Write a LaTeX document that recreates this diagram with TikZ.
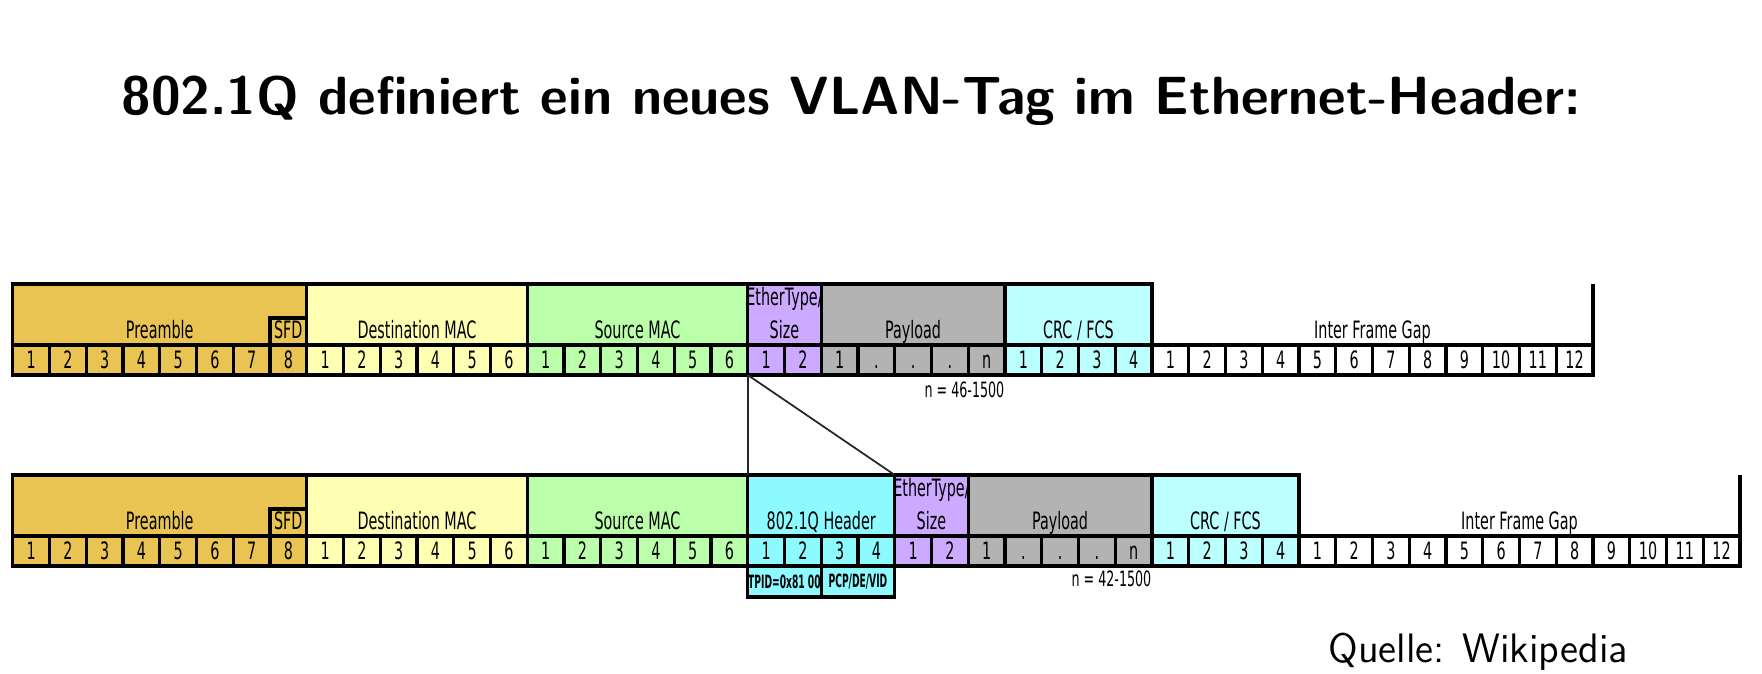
\documentclass[tikz,border=0pt]{standalone}
\usepackage{fontspec}
\newfontfamily\pktfont[FakeStretch=0.6]{DejaVu Sans}
\newfontfamily\tagfont[FakeStretch=0.5]{DejaVu Sans}

\definecolor{preamblecol}{HTML}{E9C452}
\definecolor{dstcol}{HTML}{FFFFB3}
\definecolor{srccol}{HTML}{BBFFAA}
\definecolor{typecol}{HTML}{CCAAFF}
\definecolor{paycol}{HTML}{B3B3B3}
\definecolor{crccol}{HTML}{BBFFFF}
\definecolor{tagcol}{HTML}{8CFAFF}

\tikzset{
  field/.style={draw=black, line width=0.9pt},
  hdrtext/.style={font=\pktfont\fontsize{6.8}{8}\selectfont, anchor=base, inner sep=0pt},
  celltext/.style={font=\pktfont\fontsize{6.8}{8}\selectfont, inner sep=0pt, text height=5pt, text depth=0pt},
  tagtext/.style={font=\tagfont\bfseries\fontsize{5.2}{6}\selectfont, inner sep=0pt},
  notetext/.style={font=\pktfont\fontsize{6}{7}\selectfont, inner sep=0pt, anchor=north east},
  link/.style={draw=black!85, line width=0.5pt},
}

\begin{document}
\begin{tikzpicture}[x=0.01cm, y=-0.01cm]
    \useasboundingbox (0,0) rectangle (1762,674);

    % Title
    \node[font=\sffamily\bfseries\fontsize{15.3}{18}\selectfont, anchor=base] (title) at (851,115)
        {802.1Q definiert ein neues VLAN-Tag im Ethernet-Header:};

    \begin{scope}[shift={(12.7,0)}, x=0.3673cm]
    % Ethernet frame (top)
    \foreach \s/\n/\c/\t [count=\k] in {0/8/preamblecol/Preamble, 8/6/dstcol/Destination MAC,
        14/6/srccol/Source MAC, 20/2/typecol/{\shortstack{EtherType/\\Size}},
        22/5/paycol/Payload, 27/4/crccol/{CRC / FCS}}{
        \draw[field, fill=\c] (\s,284) rectangle ++(\n,61);
        \node[hdrtext] (top-h\k) at (\s+\n/2,339) {\t};
    }
    \draw[field, fill=preamblecol] (7,318) rectangle (8,345);
    \node[hdrtext] (top-sfd) at (7.5,339) {SFD};
    \draw[field] (43,284) -- (43,345);
    \node[hdrtext] (top-ifg) at (37,339) {Inter Frame Gap};

    \foreach \s/\n/\c [count=\k] in {0/8/preamblecol, 8/6/dstcol, 14/6/srccol,
        20/2/typecol, 27/4/crccol, 31/12/white}
        \foreach \i in {1,...,\n}{
            \draw[field, fill=\c] (\s+\i-1,345) rectangle ++(1,30);
            \node[celltext] (top-c\k-\i) at (\s+\i-0.5,360) {\i};
        }
    \foreach \l [count=\i] in {1,{.},{.},{.},n}{
        \draw[field, fill=paycol] (21+\i,345) rectangle ++(1,30);
        \node[celltext] (top-p\i) at (21.5+\i,360) {\l};
    }
    \node[notetext] (top-n) at (27,381) {n = 46-1500};

    % 802.1Q frame (bottom)
    \foreach \s/\n/\c/\t [count=\k] in {0/8/preamblecol/Preamble, 8/6/dstcol/Destination MAC,
        14/6/srccol/Source MAC, 20/4/tagcol/802.1Q Header,
        24/2/typecol/{\shortstack{EtherType/\\Size}},
        26/5/paycol/Payload, 31/4/crccol/{CRC / FCS}}{
        \draw[field, fill=\c] (\s,475) rectangle ++(\n,61);
        \node[hdrtext] (bot-h\k) at (\s+\n/2,530) {\t};
    }
    \draw[field, fill=preamblecol] (7,509) rectangle (8,536);
    \node[hdrtext] (bot-sfd) at (7.5,530) {SFD};
    \draw[field] (47,475) -- (47,536);
    \node[hdrtext] (bot-ifg) at (41,530) {Inter Frame Gap};

    \foreach \s/\n/\c [count=\k] in {0/8/preamblecol, 8/6/dstcol, 14/6/srccol,
        20/4/tagcol, 24/2/typecol, 31/4/crccol, 35/12/white}
        \foreach \i in {1,...,\n}{
            \draw[field, fill=\c] (\s+\i-1,536) rectangle ++(1,30);
            \node[celltext] (bot-c\k-\i) at (\s+\i-0.5,551) {\i};
        }
    \foreach \l [count=\i] in {1,{.},{.},{.},n}{
        \draw[field, fill=paycol] (25+\i,536) rectangle ++(1,30);
        \node[celltext] (bot-p\i) at (25.5+\i,551) {\l};
    }
    \node[notetext] (bot-n) at (31,570) {n = 42-1500};

    % Tag fields
    \draw[field, fill=tagcol] (20,566) rectangle (22,597);
    \node[tagtext] (tpid) at (21,581.5) {TPID=0x81 00};
    \draw[field, fill=tagcol] (22,566) rectangle (24,597);
    \node[tagtext] (tci) at (23,581.5) {PCP/DE/VID};

    % Insertion lines
    \coordinate (ins-top) at (20,375);
    \coordinate (ins-left) at (20,475);
    \coordinate (ins-right) at (24,475);
    \draw[link] (ins-top) -- (ins-left);
    \draw[link] (ins-top) -- (ins-right);
    \end{scope}

    % Source
    \node[font=\sffamily\fontsize{11.7}{14}\selectfont, anchor=base west] (source) at (1316,663) {Quelle: Wikipedia};
\end{tikzpicture}
\end{document}
